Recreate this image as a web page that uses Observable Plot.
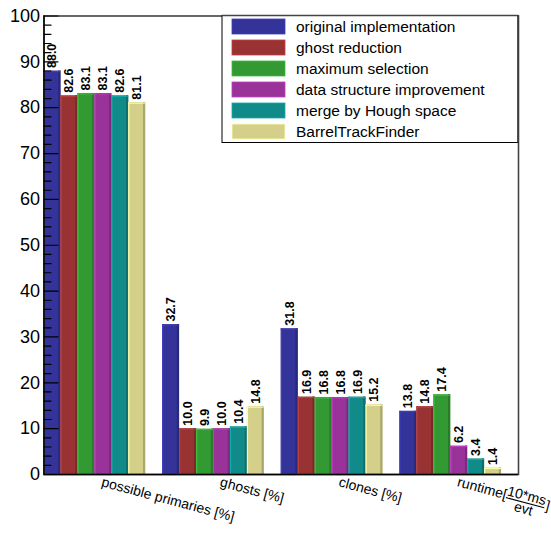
<!DOCTYPE html>
<html>
<head>
<meta charset="utf-8">
<script src="https://cdn.jsdelivr.net/npm/d3@7"></script>
<script src="https://cdn.jsdelivr.net/npm/@observablehq/plot@0.6"></script>
<style>
  body { margin: 0; background: #fff; }
  #chart svg { font-family: "Liberation Sans", Arial, Helvetica, sans-serif; display: block; }
</style>
</head>
<body>
<div id="chart"></div>
<script>
// Track-finding benchmarks: six algorithm versions, four figures of merit
const categories = ["possible primaries [%]", "ghosts [%]", "clones [%]", "runtime[10*ms/evt]"];
const series = [
  "original implementation",
  "ghost reduction",
  "maximum selection",
  "data structure improvement",
  "merge by Hough space",
  "BarrelTrackFinder"
];
const colors = ["#333399", "#993333", "#339933", "#993399", "#118a8a", "#d4d08a"];

const originalImplementation   = [88.0, 32.7, 31.8, 13.8];
const ghostReduction           = [82.6, 10.0, 16.9, 14.8];
const maximumSelection         = [83.1,  9.9, 16.8, 17.4];
const dataStructureImprovement = [83.1, 10.0, 16.8,  6.2];
const mergeByHoughSpace        = [82.6, 10.4, 16.9,  3.4];
const barrelTrackFinder        = [81.1, 14.8, 15.2,  1.4];

const yMajorTicks = [0, 10, 20, 30, 40, 50, 60, 70, 80, 90, 100];
const yMinorTicks = [2, 4, 6, 8, 12, 14, 16, 18, 22, 24, 26, 28, 32, 34, 36, 38, 42, 44, 46, 48,
                     52, 54, 56, 58, 62, 64, 66, 68, 72, 74, 76, 78, 82, 84, 86, 88, 92, 94, 96, 98];

const seriesValues = [originalImplementation, ghostReduction, maximumSelection,
                      dataStructureImprovement, mergeByHoughSpace, barrelTrackFinder];

// each category group holds one slot per series plus one empty slot as a gap
const slots = series.length + 1;
const rows = [];
categories.forEach((cat, ci) => {
  series.forEach((s, si) => {
    rows.push({
      category: cat, series: s, value: seriesValues[si][ci],
      x1: ci + si / slots, x2: ci + (si + 1) / slots, xc: ci + (si + 0.5) / slots,
      color: colors[si]
    });
  });
});

const width = 551, height = 536;
const marginLeft = 43.5, marginRight = 33, marginTop = 15.5, marginBottom = 62;
const barPx = (width - marginLeft - marginRight) / (categories.length * slots);

const darker = c => d3.color(c).darker(0.6).formatHex();
const lighter = c => d3.color(c).brighter(0.6).formatHex();

const tickShape = {draw(context, length) { context.moveTo(0, 0); context.lineTo(0, -length); }};

const chart = Plot.plot({
  width, height, marginLeft, marginRight, marginTop, marginBottom,
  style: {fontSize: "18px", fontFamily: "Liberation Sans, Arial, Helvetica, sans-serif", background: "white"},
  x: {domain: [0, categories.length], axis: null},
  y: {domain: [0, 100], ticks: yMajorTicks, tickSize: 0, tickPadding: 4, label: null, tickFormat: d => String(d)},
  marks: [
    // bars with a shaded right edge, light left edge and light top edge
    Plot.rectY(rows, {x1: "x1", x2: "x2", y: "value", fill: "color"}),
    Plot.rectY(rows, {x1: "x1", x2: "x2", y: "value", fill: d => darker(d.color), insetLeft: barPx - 2.2}),
    Plot.rectY(rows, {x1: "x1", x2: "x2", y: "value", fill: d => lighter(d.color), insetRight: barPx - 1.2}),
    Plot.ruleY(rows, {y: "value", x1: "x1", x2: "x2", stroke: d => lighter(d.color), strokeWidth: 1, dy: 0.5}),
    // frame and axis lines
    Plot.frame({stroke: "#444", strokeWidth: 1.6}),
    Plot.ruleY([0], {stroke: "black", strokeWidth: 1.4}),
    Plot.ruleX([0], {stroke: "black", strokeWidth: 1.4}),
    // inward y ticks
    Plot.vector(yMajorTicks, {x: () => 0, y: d => d, length: 14, rotate: 90, anchor: "start", shape: tickShape, stroke: "black", strokeWidth: 1.2}),
    Plot.vector(yMinorTicks, {x: () => 0, y: d => d, length: 7, rotate: 90, anchor: "start", shape: tickShape, stroke: "black", strokeWidth: 1.2}),
    // value labels above each bar
    Plot.text(rows, {x: "xc", y: "value", text: d => d.value.toFixed(1), rotate: -90, textAnchor: "start",
      dy: -3, fontSize: 12.5, fontWeight: "bold", fill: "black"}),
    // category labels
    Plot.text(categories, {x: (d, i) => i + 0.5, y: () => 0, text: d => d, rotate: 15, textAnchor: "start",
      lineAnchor: "top", dy: 2, fontSize: 14, fill: "black"})
  ]
});

document.getElementById("chart").append(chart);

// runtime label: typeset the unit as a fraction
const svg = d3.select(chart);
svg.selectAll("text").filter(function () { return this.textContent === categories[3]; }).each(function () {
  const m = /^(.*\[)(.*)\/(.*)(\])$/.exec(categories[3]);
  const fs = 14;
  const base = 0.71 * fs;              // baseline of the plain part
  const numBase = base - 0.3 * fs;     // numerator baseline
  const bar = numBase + 2.5;           // fraction bar
  const denBase = bar + 0.78 * fs;     // denominator baseline
  const t = d3.select(this);
  t.attr("y", null).attr("dy", null).text(null);
  const a = t.append("tspan").attr("x", 0).attr("y", base).text(m[1]);
  const w1 = a.node().getComputedTextLength();
  const b = t.append("tspan").attr("x", w1).attr("y", numBase).text(m[2]);
  const w2 = b.node().getComputedTextLength();
  const c = t.append("tspan").attr("y", denBase).text(m[3]);
  const w3 = c.node().getComputedTextLength();
  c.attr("x", w1 + (w2 - w3) / 2);
  t.append("tspan").attr("x", w1 + w2 + 1).attr("y", base).text(m[4]);
  d3.select(this.parentNode).append("line")
    .attr("transform", t.attr("transform"))
    .attr("x1", w1).attr("x2", w1 + w2)
    .attr("y1", bar).attr("y2", bar)
    .attr("stroke", "black").attr("stroke-width", 1);
});

// legend box in the upper right corner of the frame
const lg = svg.append("g").attr("font-size", 15.5).attr("text-anchor", "start");
lg.append("rect").attr("x", 222).attr("y", 15.5).attr("width", 296).attr("height", 127)
  .attr("fill", "white").attr("stroke", "black").attr("stroke-width", 1);
lg.append("line").attr("x1", 222).attr("x2", 518).attr("y1", 15.5).attr("y2", 15.5)
  .attr("stroke", "#444").attr("stroke-width", 1.6);
lg.append("line").attr("x1", 518).attr("x2", 518).attr("y1", 15.5).attr("y2", 142.5)
  .attr("stroke", "#444").attr("stroke-width", 1.6);
series.forEach((s, i) => {
  const cy = 26.5 + i * 21;
  lg.append("rect").attr("x", 232).attr("y", cy - 7.5).attr("width", 53).attr("height", 15)
    .attr("fill", colors[i]).attr("stroke", lighter(colors[i])).attr("stroke-width", 0.8);
  lg.append("text").attr("x", 296).attr("y", cy).attr("dy", "0.35em").attr("fill", "black").text(s);
});
</script>
</body>
</html>
